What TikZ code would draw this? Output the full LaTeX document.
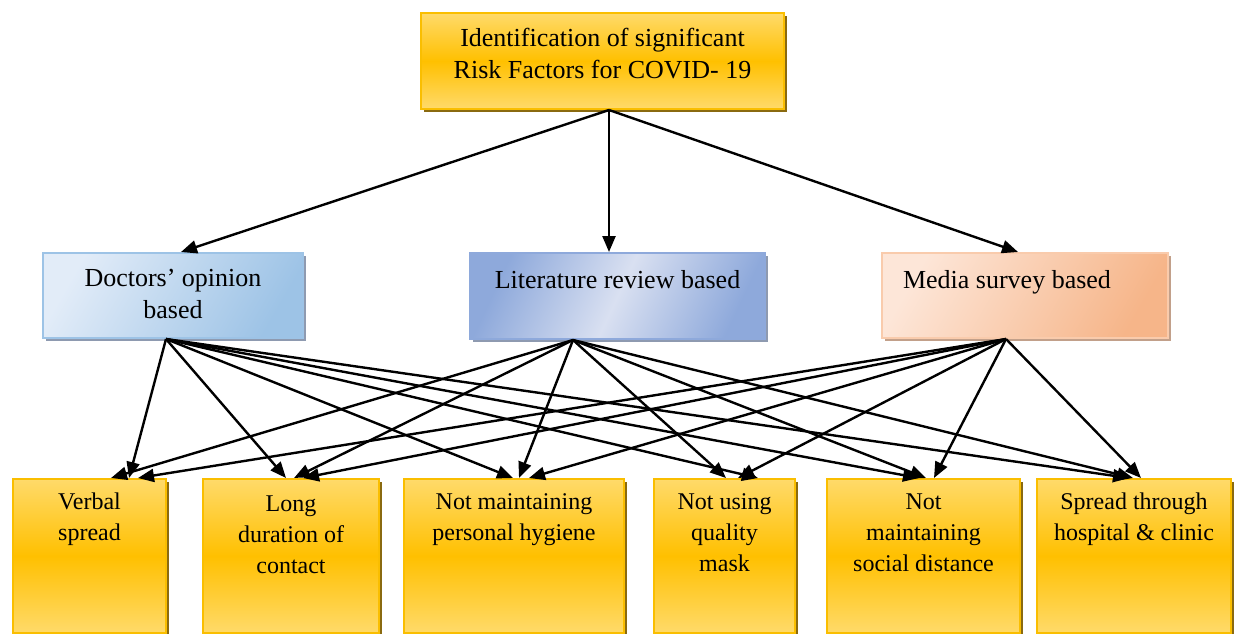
\documentclass[tikz,border=0pt]{standalone}
\usepackage{fontspec}
\setmainfont{Liberation Serif}
\usetikzlibrary{arrows.meta,shadows}

\definecolor{goldA}{HTML}{FFDA6A}
\definecolor{goldB}{HTML}{FFC000}
\definecolor{goldEdge}{HTML}{FABE00}
\definecolor{goldShadow}{HTML}{8A6A10}
\definecolor{docA}{HTML}{9DC3E6}
\definecolor{docB}{HTML}{E2ECF8}
\definecolor{litA}{HTML}{8EA9DB}
\definecolor{litB}{HTML}{D9E0F1}
\definecolor{medA}{HTML}{F6B589}
\definecolor{medB}{HTML}{FDE6D8}
\definecolor{blueShadow}{HTML}{8E9AB0}
\definecolor{medShadow}{HTML}{C2A08A}

\tikzset{
  box/.style={anchor=north west, inner sep=0pt, align=flush center, line width=1pt},
  goldbox/.style={box, draw=goldEdge, top color=goldA, bottom color=goldA, middle color=goldB,
    drop shadow={shadow xshift=1.6pt, shadow yshift=-1.6pt, fill=goldShadow, opacity=1}},
  headbox/.style={goldbox, font=\fontsize{13}{16.25}\selectfont},
  leafbox/.style={goldbox, font=\fontsize{12}{15.5}\selectfont, text height=15pt, text depth=62pt},
  midbox/.style={box, font=\fontsize{13}{16.25}\selectfont,
    drop shadow={shadow xshift=1.6pt, shadow yshift=-1.6pt, fill=blueShadow, opacity=1}},
  link/.style={-{Triangle[length=8pt,width=6.5pt]}, line width=1.2pt},
}

\begin{document}
\begin{tikzpicture}[x=0.5pt, y=-0.5pt]
  \useasboundingbox (0,0) rectangle (1234,633);

  % top
  \node[headbox, text width=181.5pt, text height=16.5pt, text depth=31.5pt] (top) at (420,12)
    {Identification of significant\\Risk Factors for COVID- 19};

  % sources
  \node[midbox, draw=docA, left color=docB, right color=docA, shading angle=60,
    text width=130pt, text height=16.5pt, text depth=26pt] (doc) at (42,252)
    {Doctors’ opinion\\based};
  \node[midbox, draw=litA, left color=litA, right color=litA, middle color=litB, shading angle=65,
    text width=147.5pt, text height=17.5pt, text depth=25.5pt] (lit) at (469,252)
    {Literature review based};
  \node[midbox, draw=medA!70, left color=medB, right color=medA, shading angle=60,
    drop shadow={shadow xshift=1.6pt, shadow yshift=-1.6pt, fill=medShadow, opacity=1},
    align=flush left, inner xsep=10.5pt, text width=122pt, text height=17.5pt, text depth=25pt] (media) at (881,252)
    {Media survey based};

  % risk factors
  \node[leafbox, text width=76.5pt] (verbal) at (12,478) {Verbal\\spread};
  \node[leafbox, text width=88pt, text height=16pt, text depth=61pt] (long) at (202,478) {Long\\duration of\\contact};
  \node[leafbox, text width=110pt] (hyg) at (403,478) {Not maintaining\\personal hygiene};
  \node[leafbox, text width=70.5pt] (mask) at (653,478) {Not using\\quality\\mask};
  \node[leafbox, text width=96.5pt] (social) at (826,478) {Not\\maintaining\\social distance};
  \node[leafbox, text width=97pt] (spread) at (1036,478) {Spread through\\hospital \& clinic};

  \draw[link] ([xshift=3.25pt]top.south) -- ([xshift=4pt]doc.north);
  \draw[link] ([xshift=3.25pt]top.south) -- ([xshift=-4.25pt]lit.north);
  \draw[link] ([xshift=3.25pt]top.south) -- ([xshift=-3.5pt]media.north);

  \foreach \dst/\dx in {verbal/19.75pt, long/-2.5pt, hyg/-0.5pt, mask/16.75pt, social/-2.25pt, spread/-2.5pt}
    \draw[link] ([xshift=-3.5pt]doc.south) -- ([xshift=\dx]\dst.north);
  \foreach \dst/\dx in {verbal/10.75pt, long/1.5pt, hyg/2.5pt, mask/0.75pt, social/1.25pt, spread/-0.5pt}
    \draw[link] ([xshift=-22.25pt]lit.south) -- ([xshift=\dx]\dst.north);
  \foreach \dst/\dx in {verbal/24.25pt, long/6pt, hyg/7.5pt, mask/6.75pt, social/5.25pt, spread/3.5pt}
    \draw[link] ([xshift=-9.5pt]media.south) -- ([xshift=\dx]\dst.north);
\end{tikzpicture}
\end{document}
